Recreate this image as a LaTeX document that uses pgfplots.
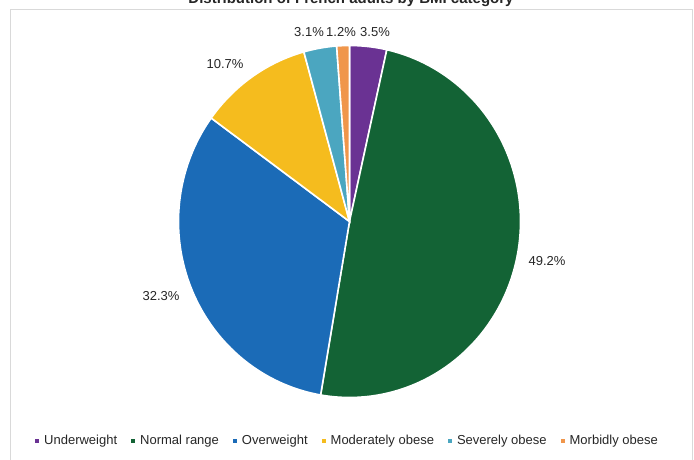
\documentclass[border=0pt]{standalone}
\usepackage{pgfplots}
\pgfplotsset{compat=1.18}
\usepackage{fontspec}
\setmainfont{Liberation Sans}
\definecolor{cUnder}{HTML}{6A3293}
\definecolor{cNormal}{HTML}{136335}
\definecolor{cOver}{HTML}{1B6BB7}
\definecolor{cMod}{HTML}{F5BC1E}
\definecolor{cSev}{HTML}{4BA6C0}
\definecolor{cMorb}{HTML}{F0964B}
\definecolor{txt}{HTML}{262626}
% shares (%) of each BMI category
\def\vA{3.5}\def\vB{49.2}\def\vC{32.3}\def\vD{10.7}\def\vE{3.1}\def\vF{1.2}
\begin{document}
\begin{tikzpicture}
\def\cx{349.5}\def\cy{237.5}\def\rx{171}\def\ry{176}
\pgfmathsetmacro{\aA}{90}
\pgfmathsetmacro{\aB}{\aA-3.6*\vA}
\pgfmathsetmacro{\aC}{\aB-3.6*\vB}
\pgfmathsetmacro{\aD}{\aC-3.6*\vC}
\pgfmathsetmacro{\aE}{\aD-3.6*\vD}
\pgfmathsetmacro{\aF}{\aE-3.6*\vE}
\pgfmathsetmacro{\aG}{\aF-3.6*\vF}
\begin{axis}[x=1pt,y=1pt,xmin=0,xmax=694,ymin=0,ymax=459,
  hide axis,clip=false,at={(0,0)},anchor=origin,
  legend columns=-1,
  legend style={at={(axis cs:35,18)},anchor=west,draw=none,fill=none,inner sep=0pt,
    font=\fontsize{13}{15}\selectfont,text=txt,nodes={inner sep=0pt},
    /tikz/every odd column/.append style={column sep=5pt},
    /tikz/every even column/.append style={column sep=14pt}},
  legend image code/.code={\fill[#1,draw=none] (0pt,-2pt) rectangle (4pt,2pt);},
]
\draw[color=black!15,line width=0.8pt] (axis cs:10,-5) -- (axis cs:10,449.5) -- (axis cs:692,449.5) -- (axis cs:692,-5);
\addplot[fill=cUnder,draw=white,line width=1.6pt,domain=\aB:\aA,samples=30,variable=\t]
  ({\cx+\rx*cos(t)},{\cy+\ry*sin(t)}) -- (axis cs:\cx,\cy) -- cycle;
\addlegendentry{Underweight}
\addplot[fill=cNormal,draw=white,line width=1.6pt,domain=\aC:\aB,samples=150,variable=\t]
  ({\cx+\rx*cos(t)},{\cy+\ry*sin(t)}) -- (axis cs:\cx,\cy) -- cycle;
\addlegendentry{Normal range}
\addplot[fill=cOver,draw=white,line width=1.6pt,domain=\aD:\aC,samples=120,variable=\t]
  ({\cx+\rx*cos(t)},{\cy+\ry*sin(t)}) -- (axis cs:\cx,\cy) -- cycle;
\addlegendentry{Overweight}
\addplot[fill=cMod,draw=white,line width=1.6pt,domain=\aE:\aD,samples=50,variable=\t]
  ({\cx+\rx*cos(t)},{\cy+\ry*sin(t)}) -- (axis cs:\cx,\cy) -- cycle;
\addlegendentry{Moderately obese}
\addplot[fill=cSev,draw=white,line width=1.6pt,domain=\aF:\aE,samples=30,variable=\t]
  ({\cx+\rx*cos(t)},{\cy+\ry*sin(t)}) -- (axis cs:\cx,\cy) -- cycle;
\addlegendentry{Severely obese}
\addplot[fill=cMorb,draw=white,line width=1.6pt,domain=\aG:\aF,samples=20,variable=\t]
  ({\cx+\rx*cos(t)},{\cy+\ry*sin(t)}) -- (axis cs:\cx,\cy) -- cycle;
\addlegendentry{Morbidly obese}
\begin{scope}[every node/.style={font=\fontsize{13}{15}\selectfont,text=txt}]
\node at (axis cs:375,427) {\vA\%};
\node at (axis cs:547,198) {\vB\%};
\node at (axis cs:161,163) {\vC\%};
\node at (axis cs:225,395) {\vD\%};
\node at (axis cs:309,427) {\vE\%};
\node at (axis cs:341,427) {\vF\%};
\end{scope}
\node[overlay,anchor=base,font=\bfseries\fontsize{15}{18}\selectfont,text=txt] at (axis cs:351,455) {Distribution of French adults by BMI category};
\end{axis}
\pgfresetboundingbox
\useasboundingbox (0,0) rectangle (694pt,459pt);
\end{tikzpicture}
\end{document}
